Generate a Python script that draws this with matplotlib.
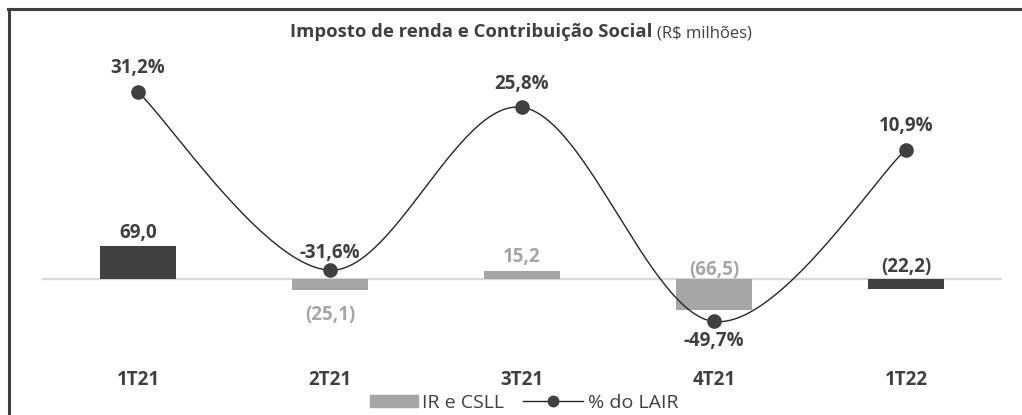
import matplotlib.pyplot as plt
import numpy as np
from matplotlib.lines import Line2D
from matplotlib.patches import Patch
from matplotlib.transforms import blended_transform_factory

plt.rcParams['font.family'] = ['Open Sans', 'DejaVu Sans']

# data
quarters = ["1T21", "2T21", "3T21", "4T21", "1T22"]
ir_csll = [69.0, -25.1, 15.2, -66.5, -22.2]
pct_lair = [31.2, -31.6, 25.8, -49.7, 10.9]
bar_labels = ["69,0", "(25,1)", "15,2", "(66,5)", "(22,2)"]
pct_labels = ["31,2%", "-31,6%", "25,8%", "-49,7%", "10,9%"]

DARK = "#404040"
LIGHT = "#a6a6a6"
bar_colors = [DARK, LIGHT, LIGHT, LIGHT, DARK]

W, H = 1022, 415
fig = plt.figure(figsize=(W / 100, H / 100), dpi=100)

# plot area in pixels (top-down)
ax_left, ax_right, ax_top, ax_bot = 42, 1002, 50, 395
ax = fig.add_axes([ax_left / W, 1 - ax_bot / H, (ax_right - ax_left) / W, (ax_bot - ax_top) / H])
ax2 = ax.twinx()

# y scales: bars -> zero at 278.5px, 0.478 px per unit; line -> zero at 180.5px, 2.837 px per unit
def limits(zero_px, px_per_unit):
    return (-(ax_bot - zero_px) / px_per_unit, (zero_px - ax_top) / px_per_unit)

ax.set_ylim(*limits(278.5, 0.478))
ax2.set_ylim(*limits(180.5, 2.837))

x = np.arange(len(quarters))
ax.set_xlim(-0.5, len(quarters) - 0.5)

ax.axhline(0, color="#d9d9d9", lw=1.6, zorder=1)
ax.bar(x, ir_csll, width=0.4, color=bar_colors, zorder=2)

FS = 13.5

# bar labels: baseline offset (pixels) from bar end
bar_dy = [8, -30, 9, 35, 17]
for i, v in enumerate(ir_csll):
    ax.annotate(bar_labels[i], (x[i], v), xytext=(0, bar_dy[i]), textcoords="offset pixels",
                ha="center", va="baseline", fontsize=FS, fontweight="bold", color=bar_colors[i])

# smoothed line (bezier with catmull-rom style control points)
P = np.column_stack([x, pct_lair]).astype(float)
n = len(P)
curve = []
t = np.linspace(0, 1, 60)[:, None]
for i in range(n - 1):
    p0, p1 = P[i], P[i + 1]
    pm = P[max(i - 1, 0)]
    pp = P[min(i + 2, n - 1)]
    c1 = p0 + (p1 - pm) / 6
    c2 = p1 - (pp - p0) / 6
    seg = (1 - t) ** 3 * p0 + 3 * (1 - t) ** 2 * t * c1 + 3 * (1 - t) * t ** 2 * c2 + t ** 3 * p1
    curve.append(seg)
curve = np.vstack(curve)
ax2.plot(curve[:, 0], curve[:, 1], color="#262626", lw=1.0, zorder=3)
ax2.plot(x, pct_lair, "o", color=DARK, ms=9.5, zorder=4)

pct_dy = [19, 12, 18, -24.5, 19]
for i, v in enumerate(pct_lair):
    ax2.annotate(pct_labels[i], (x[i], v), xytext=(0, pct_dy[i]), textcoords="offset pixels",
                 ha="center", va="baseline", fontsize=FS, fontweight="bold", color=DARK)

for a in (ax, ax2):
    a.set_yticks([])
    a.set_xticks([])
    for s in a.spines.values():
        s.set_visible(False)
    a.patch.set_visible(False)

# category labels
tr = blended_transform_factory(ax.transData, fig.transFigure)
for i, q in enumerate(quarters):
    ax.text(x[i], 1 - 385 / H, q, transform=tr, ha="center", va="baseline",
            fontsize=FS, fontweight="bold", color=DARK)

# title
t1 = fig.text(290 / W, 1 - 37 / H, "Imposto de renda e Contribuição Social", ha="left", va="baseline",
              fontsize=13.3, fontweight="bold", color=DARK)
fig.canvas.draw()
bb = t1.get_window_extent()
fig.text((bb.x1 + 5) / W, 1 - 37 / H, "(R$ milhões)", ha="left", va="baseline",
         fontsize=12, color=DARK)

# legend: two entries placed side by side (different handle lengths)
leg_y = 1 - 403 / H
leg_kw = dict(loc="center left", frameon=False, fontsize=14, handletextpad=0.25,
              borderpad=0, borderaxespad=0, labelcolor=DARK)
fig.legend([Patch(color=LIGHT)], ["IR e CSLL"], bbox_to_anchor=(370 / W, leg_y),
           handlelength=2.45, handleheight=0.55, **leg_kw)
fig.legend([Line2D([], [], color="#262626", lw=1.0, marker="o", ms=7.5, mfc=DARK, mec=DARK)],
           ["% do LAIR"], bbox_to_anchor=(523 / W, leg_y), handlelength=3.1, **leg_kw)

# outer frame (left and top edges)
fig.add_artist(Line2D([9 / W, 9 / W], [0, 1 - 9 / H], color="#3f3f3f", lw=2.2, transform=fig.transFigure))
fig.add_artist(Line2D([8 / W, 1], [1 - 9 / H, 1 - 9 / H], color="#3f3f3f", lw=2.2, transform=fig.transFigure))

fig.savefig("out.png", dpi=100)
